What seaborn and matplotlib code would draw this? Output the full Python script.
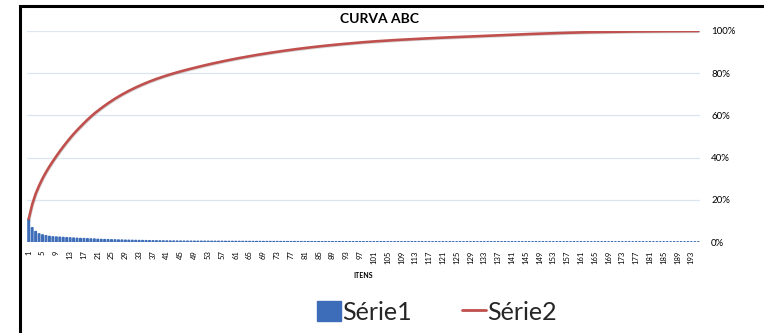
import numpy as np
import pandas as pd
import matplotlib
matplotlib.use("Agg")
import matplotlib.pyplot as plt
import matplotlib.patheffects as pe
from matplotlib.patches import Rectangle, Patch
from matplotlib.lines import Line2D
import seaborn as sns

# Participação (%) de cada item, em ordem decrescente
serie1 = [
    11.0, 6.8, 5.0, 3.9, 3.4, 3.0, 2.7, 2.5,
    2.4, 2.3, 2.2, 2.1, 2.0, 1.9, 1.8, 1.7, 1.65, 1.6, 1.5, 1.45,
    1.3, 1.25, 1.2, 1.15, 1.1, 1.05, 1.0, 0.95,
    0.9, 0.86, 0.82, 0.78, 0.75, 0.72, 0.69, 0.66, 0.63, 0.6, 0.57, 0.55,
    0.53, 0.51, 0.49, 0.47, 0.45,
    0.44, 0.43, 0.42, 0.41, 0.40, 0.40, 0.39, 0.38, 0.37, 0.36, 0.36, 0.35,
    0.34, 0.33, 0.33, 0.32, 0.31, 0.30, 0.30, 0.29, 0.28, 0.28, 0.27, 0.26, 0.26,
    0.25, 0.25, 0.24, 0.24, 0.23, 0.23, 0.22, 0.22, 0.21, 0.21, 0.20, 0.20,
    0.19, 0.19, 0.18, 0.18, 0.17, 0.17, 0.16, 0.16, 0.16, 0.15, 0.15, 0.15,
    0.14, 0.14, 0.14, 0.13, 0.13,
    0.12, 0.12, 0.11, 0.11, 0.11, 0.10, 0.10, 0.10, 0.10, 0.09, 0.09, 0.09,
    0.09, 0.09, 0.08, 0.08, 0.08, 0.08, 0.08, 0.08, 0.07, 0.07, 0.07,
    0.07, 0.07, 0.07, 0.07, 0.07, 0.07, 0.07, 0.07, 0.07, 0.07, 0.07, 0.07,
    0.07, 0.07, 0.07, 0.07, 0.07, 0.07, 0.07, 0.07, 0.06, 0.06, 0.06, 0.06,
    0.06, 0.06, 0.06, 0.06, 0.06,
    0.05, 0.05, 0.05, 0.05, 0.05, 0.05, 0.05, 0.05, 0.05, 0.05,
    0.03, 0.03, 0.03, 0.03, 0.03, 0.03, 0.03, 0.03, 0.03, 0.03,
    0.02, 0.02, 0.02, 0.02, 0.02, 0.02, 0.02, 0.02, 0.02, 0.02,
    0.01, 0.01, 0.01, 0.01, 0.01, 0.01, 0.01, 0.01, 0.01, 0.01, 0.01, 0.01,
    0.01, 0.01,
]
itens = list(range(1, len(serie1) + 1))
y_ticks = [0, 0.2, 0.4, 0.6, 0.8, 1.0]
y_labels = ["0%", "20%", "40%", "60%", "80%", "100%"]
x_tick_items = list(range(1, len(serie1) + 1, 4))

pct = np.array(serie1) / np.sum(serie1)
df = pd.DataFrame({"item": itens, "Série1": pct, "Série2": np.cumsum(pct)})

sns.set_theme(style="white")
plt.rcParams["font.family"] = ["Lato", "DejaVu Sans"]

BLUE = "#3D6DB8"
RED = "#C0504D"
GRID = "#DCE6F0"

fig = plt.figure(figsize=(7.64, 3.33), dpi=100)
ax = fig.add_axes([27 / 764, 91 / 333, 673 / 764, 211 / 333])

sns.barplot(data=df, x="item", y="Série1", color=BLUE, saturation=1,
            width=0.5, linewidth=0, ax=ax)
# contorno das barras para que as menores continuem visíveis
for bar in ax.patches:
    bar.set_edgecolor(BLUE)
    bar.set_linewidth(0.9)
    bar.set_snap(False)

sns.lineplot(x=np.arange(len(df)), y=df["Série2"], color=RED, linewidth=1.9,
             ax=ax,
             path_effects=[pe.SimpleLineShadow(offset=(0.4, -0.6), alpha=0.18),
                           pe.Normal()])

ax.set_xlim(-0.5, len(df) - 0.5)
ax.set_ylim(0, 1)
ax.yaxis.tick_right()
ax.set_yticks(y_ticks)
ax.set_yticklabels(y_labels, fontsize=7, color="#000000")
ax.tick_params(axis="y", length=0, pad=8)
ax.set_xticks([i - 1 for i in x_tick_items])
ax.set_xticklabels([str(i) for i in x_tick_items], rotation=90, fontsize=5.5,
                   color="#000000")
ax.tick_params(axis="x", length=0, pad=6)
ax.grid(axis="y", color=GRID, linewidth=0.9)
ax.set_axisbelow(True)
for s in ax.spines.values():
    s.set_visible(False)
ax.set_xlabel("")
ax.set_ylabel("")

fig.text(379 / 764, 1 - 19 / 333, "CURVA ABC", ha="center", va="center",
         fontsize=10, fontweight="bold", color="#000000")
fig.text(363 / 764, 1 - 276 / 333, "ITENS", ha="center", va="center",
         fontsize=5, fontweight="bold", color="#000000")

handles = [Patch(facecolor=BLUE, edgecolor=BLUE),
           Line2D([0], [0], color=RED, linewidth=2)]
fig.legend(handles, ["Série1", "Série2"], loc="center",
           bbox_to_anchor=(437 / 764, 1 - 312 / 333), ncol=2, frameon=False,
           fontsize=18, handlelength=0.95, handleheight=0.85,
           handletextpad=0.05, columnspacing=2.0)

# moldura do gráfico
fig.patches.append(Rectangle((20 / 764, -0.1), 1.0, 1 - 6 / 333 + 0.1,
                             transform=fig.transFigure, fill=False,
                             edgecolor="#000000", linewidth=2.2))

fig.savefig("out.png", dpi=100)
